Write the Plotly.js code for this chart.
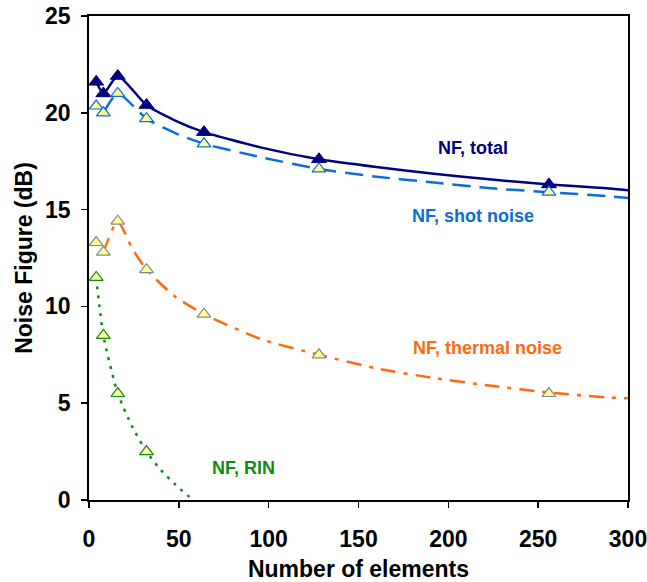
<!DOCTYPE html>
<html><head><meta charset="utf-8">
<script src="https://cdn.plot.ly/plotly-3.0.1.min.js"></script>
<style>body{margin:0;background:#fff}#chart{width:647px;height:582px}</style>
</head><body><div id="chart"></div>
<script>
// axis ticks
const xTicks = [0, 50, 100, 150, 200, 250, 300];
const yTicks = [0, 5, 10, 15, 20, 25];
// measured points
const ptX = [4, 8, 16, 32, 64, 128, 256];
const totalPts = [21.6, 21.0, 21.9, 20.4, 19.0, 17.6, 16.3];
const shotPts = [20.35, 20.0, 21.0, 19.7, 18.4, 17.1, 15.9];
const thermalPts = [13.3, 12.8, 14.4, 11.9, 9.6, 7.5, 5.5];
const rinX = [4, 8, 16, 32];
const rinPts = [11.5, 8.5, 5.5, 2.5];
// model curves
const totalCurveX = [4, 8, 16, 32, 48, 64, 96, 128, 160, 192, 224, 256, 288, 300];
const totalCurve = [21.6, 21.0, 21.9, 20.4, 19.6, 19.0, 18.2, 17.6, 17.2, 16.85, 16.55, 16.3, 16.1, 16.0];
const shotCurveX = [8, 16, 32, 48, 64, 96, 128, 160, 192, 224, 256, 288, 300];
const shotCurve = [20.0, 21.0, 19.7, 18.95, 18.4, 17.7, 17.1, 16.7, 16.4, 16.1, 15.9, 15.7, 15.6];
const thermalCurveX = [8, 16, 24, 32, 48, 64, 96, 128, 160, 192, 224, 256, 288, 300];
const thermalCurve = [12.8, 14.4, 13.0, 11.9, 10.5, 9.6, 8.3, 7.5, 6.8, 6.3, 5.9, 5.55, 5.3, 5.25];
const rinCurveX = [4, 8, 16, 24, 32, 40, 48, 56, 64];
const rinCurve = [11.5, 8.5, 5.5, 3.8, 2.5, 1.55, 0.8, 0.15, -0.4];

const cTotal = '#000080', cShot = '#0a6ed6', cTherm = '#ff6a10', cRin = '#118a11';
const yellow = '#ffff99';

const traces = [
  {x: totalCurveX, y: totalCurve, mode: 'lines', line: {color: cTotal, width: 2.5, shape: 'spline', smoothing: 0.6}},
  {x: shotCurveX, y: shotCurve, mode: 'lines', line: {color: cShot, width: 2.5, dash: '18px,9px', shape: 'spline', smoothing: 0.6}},
  {x: thermalCurveX, y: thermalCurve, mode: 'lines', line: {color: cTherm, width: 2.5, dash: '15px,8px,4px,8px', shape: 'spline', smoothing: 0.6}},
  {x: rinCurveX, y: rinCurve, mode: 'lines', line: {color: cRin, width: 2.5, dash: '3px,6px', shape: 'spline', smoothing: 0.6}},
  {x: ptX, y: totalPts, mode: 'markers', marker: {symbol: 'triangle-up', size: 13, color: cTotal, line: {color: cTotal, width: 1}}},
  {x: ptX, y: shotPts, mode: 'markers', marker: {symbol: 'triangle-up', size: 12, color: yellow, line: {color: cShot, width: 1.2}}},
  {x: ptX, y: thermalPts, mode: 'markers', marker: {symbol: 'triangle-up', size: 12, color: yellow, line: {color: '#888888', width: 1.2}}},
  {x: rinX, y: rinPts, mode: 'markers', marker: {symbol: 'triangle-up', size: 12, color: yellow, line: {color: cRin, width: 1.2}}}
];

const font = 'Arial, "Liberation Sans", sans-serif';
const bold = v => '<b>' + v + '</b>';
const layout = {
  width: 647, height: 582,
  margin: {l: 89, r: 19, t: 16, b: 82},
  paper_bgcolor: '#fff', plot_bgcolor: '#fff',
  showlegend: false,
  font: {family: font, color: '#000'},
  xaxis: {
    range: [0, 300], tickvals: xTicks, ticktext: xTicks.map(bold), ticklabeloverflow: 'allow',
    showgrid: false, zeroline: false, showline: true, linecolor: '#000', linewidth: 1.8,
    mirror: true, ticks: 'outside', ticklen: 6, tickwidth: 1.5, tickcolor: '#000', ticklabelstandoff: 12,
    tickfont: {family: font, size: 23, color: '#000'},
    title: {text: '<b>Number of elements</b>', font: {family: font, size: 23, color: '#000'}, standoff: 12}
  },
  yaxis: {
    range: [0, 25], tickvals: yTicks, ticktext: yTicks.map(bold), ticklabeloverflow: 'allow',
    showgrid: false, zeroline: false, showline: true, linecolor: '#000', linewidth: 1.8,
    mirror: true, ticks: 'outside', ticklen: 6, tickwidth: 1.5, tickcolor: '#000', ticklabelstandoff: 6,
    tickfont: {family: font, size: 23, color: '#000'},
    title: {text: '<b>Noise Figure (dB)</b>', font: {family: font, size: 23, color: '#000'}, standoff: 6}
  },
  annotations: [
    {x: 214, y: 18.2, text: '<b>NF, total</b>', showarrow: false, font: {family: font, size: 18, color: cTotal}},
    {x: 214, y: 14.65, text: '<b>NF, shot noise</b>', showarrow: false, font: {family: font, size: 18, color: cShot}},
    {x: 222, y: 7.87, text: '<b>NF, thermal noise</b>', showarrow: false, font: {family: font, size: 18, color: cTherm}},
    {x: 86, y: 1.65, text: '<b>NF, RIN</b>', showarrow: false, font: {family: font, size: 18, color: cRin}}
  ]
};
Plotly.newPlot('chart', traces, layout, {staticPlot: true});
</script></body></html>
